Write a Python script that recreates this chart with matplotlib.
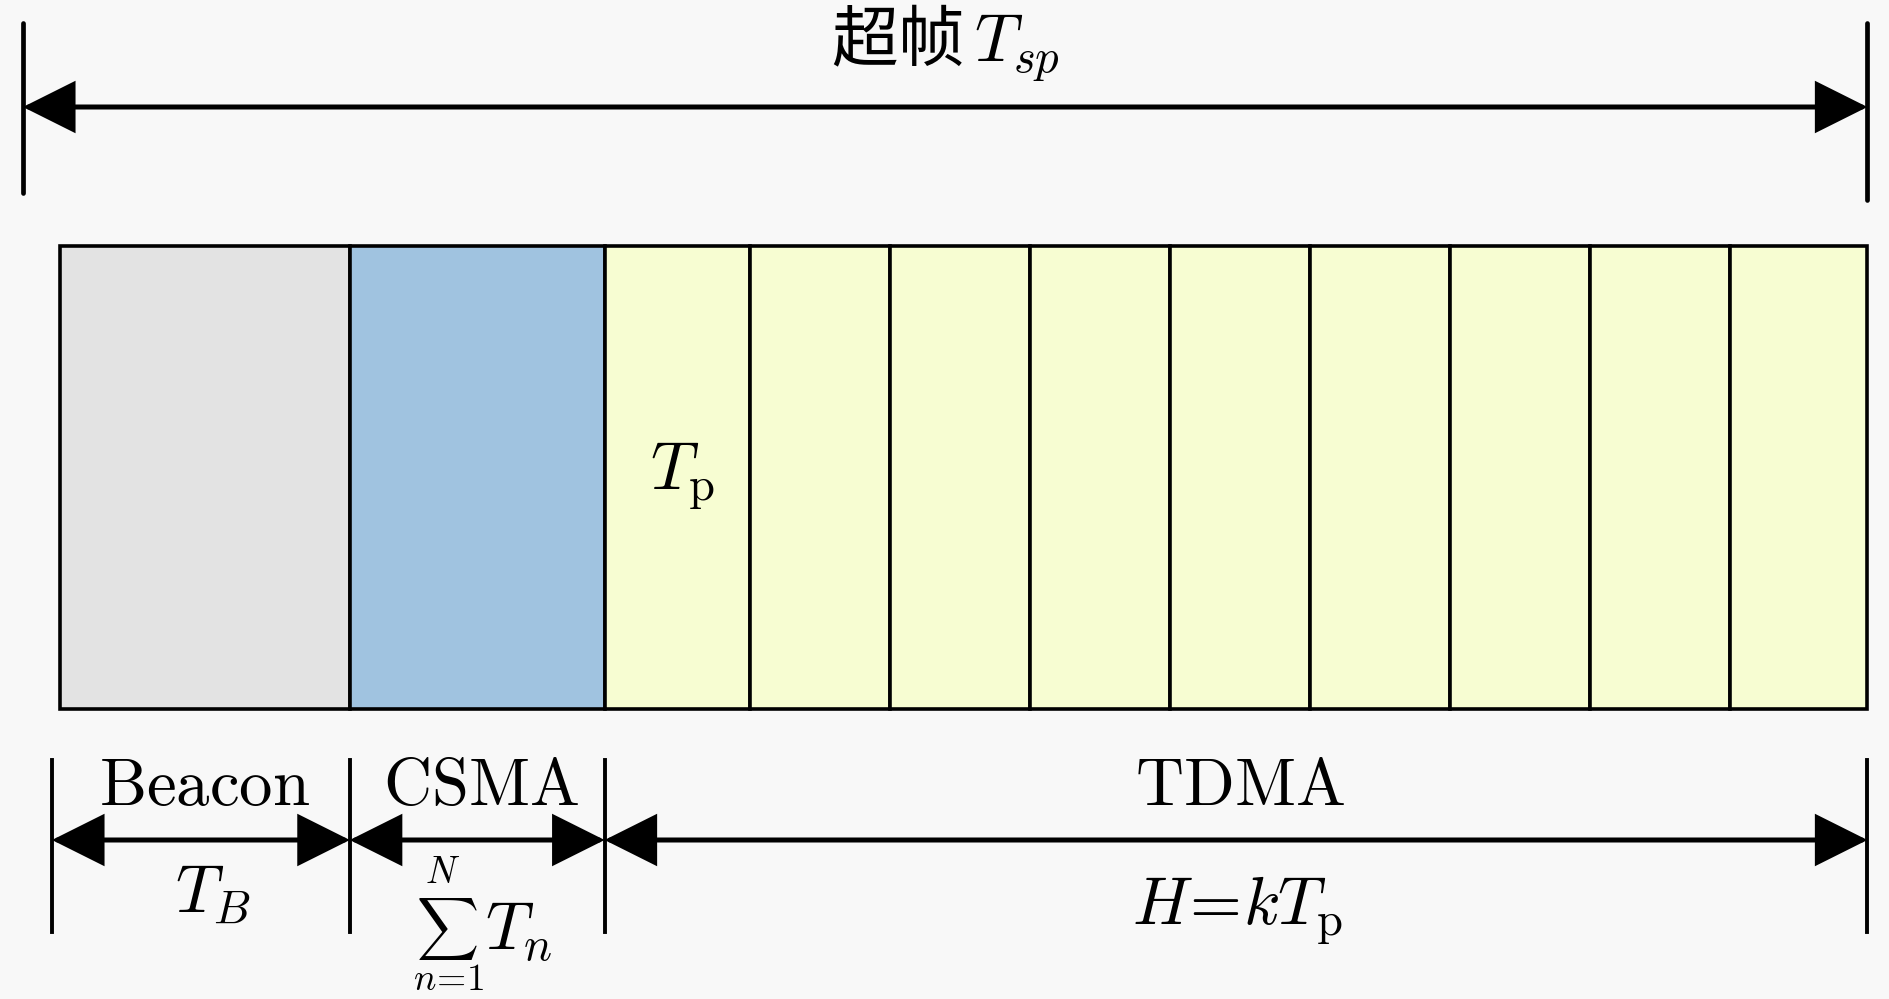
import matplotlib
matplotlib.use("Agg")
import matplotlib.pyplot as plt
from matplotlib.patches import Rectangle, FancyArrowPatch

plt.rcParams['mathtext.fontset'] = 'cm'
plt.rcParams['font.family'] = ['Noto Sans CJK SC', 'DejaVu Sans']

# superframe structure, durations in units of one TDMA slot (T_p)
phase_names = ['Beacon', 'CSMA', 'TDMA']
phase_colors = ['#e3e3e3', '#a0c3e0', '#f7fdd2']
beacon_duration = 2.07
csma_duration = 1.82
slot_durations = [1.04, 1.0, 1.0, 1.0, 1.0, 1.0, 1.0, 1.0, 0.98]  # k = 9 slots
beacon_lower = r'$T_B$'
csma_sum = (r'$\sum$', r'$N$', r'$n\!=\!1$', r'$T_n$')
tdma_lower = r'$H\!=\!kT_{\mathrm{p}}$'
title_text = r'超帧$\,T_{sp}$'
slot_label = r'$T_{\mathrm{p}}$'

# layout (pixels)
W, H = 1890, 999
px_per_unit = 140.0
box_left, box_top, box_bottom = 60, 246, 709
edge_lw = 2.6
fs = 48

fig = plt.figure(figsize=(W / 100, H / 100), dpi=100)
fig.patch.set_facecolor('#f8f8f8')
ax = fig.add_axes([0, 0, 1, 1])
ax.set_xlim(0, W)
ax.set_ylim(H, 0)
ax.axis('off')


def dim_arrow(x0, x1, y):
    arr = FancyArrowPatch((x0, y), (x1, y),
                          arrowstyle='<|-|>,head_length=32,head_width=16',
                          mutation_scale=1, shrinkA=0, shrinkB=0,
                          lw=3.6, color='black', joinstyle='miter')
    ax.add_patch(arr)


# boundaries of each block
edges = [box_left]
widths = [beacon_duration, csma_duration] + slot_durations
for w in widths:
    edges.append(edges[-1] + w * px_per_unit)

fills = [phase_colors[0], phase_colors[1]] + [phase_colors[2]] * len(slot_durations)
for i, w in enumerate(widths):
    ax.add_patch(Rectangle((edges[i], box_top), edges[i + 1] - edges[i],
                           box_bottom - box_top, facecolor=fills[i],
                           edgecolor='black', lw=edge_lw))

# slot label in first TDMA slot
ax.text(edges[2] + 45, 490, slot_label, fontsize=fs, va='baseline', ha='left')

# top superframe dimension
top_l, top_r = 23, edges[-1]
ax.plot([top_l, top_l], [23, 193], color='black', lw=3.4, solid_capstyle='round')
ax.plot([top_r, top_r], [23, 200], color='black', lw=3.4, solid_capstyle='round')
dim_arrow(top_l, top_r, 107)
ax.text((top_l + top_r) / 2, 62, title_text, fontsize=fs, ha='center', va='baseline')

# bottom phase dimensions
phase_edges = [box_left - 8, edges[1], edges[2], edges[-1]]
for x in phase_edges:
    ax.plot([x, x], [760, 932], color='black', lw=2.8)
for i, name in enumerate(phase_names):
    x0, x1 = phase_edges[i], phase_edges[i + 1]
    dim_arrow(x0, x1, 840)
    xc = (x0 + x1) / 2
    ax.text(xc + 4, 805, r'$\mathrm{%s}$' % name, fontsize=fs, ha='center', va='baseline')

ax.text((phase_edges[0] + phase_edges[1]) / 2 + 12, 912, beacon_lower,
        fontsize=fs, ha='center', va='baseline')

# CSMA: sum with limits above and below, then T_n
xs = (phase_edges[1] + phase_edges[2]) / 2 - 30
ax.text(xs, 929, csma_sum[0], fontsize=31, ha='center', va='center')
ax.text(xs - 5, 883, csma_sum[1], fontsize=27, ha='center', va='baseline')
ax.text(xs + 2, 990, csma_sum[2], fontsize=27, ha='center', va='baseline')
ax.text(xs + 38, 950, csma_sum[3], fontsize=fs, ha='left', va='baseline')

ax.text((phase_edges[2] + phase_edges[3]) / 2 + 2, 925, tdma_lower,
        fontsize=fs, ha='center', va='baseline')

fig.savefig('out.png', dpi=100, facecolor=fig.get_facecolor())
